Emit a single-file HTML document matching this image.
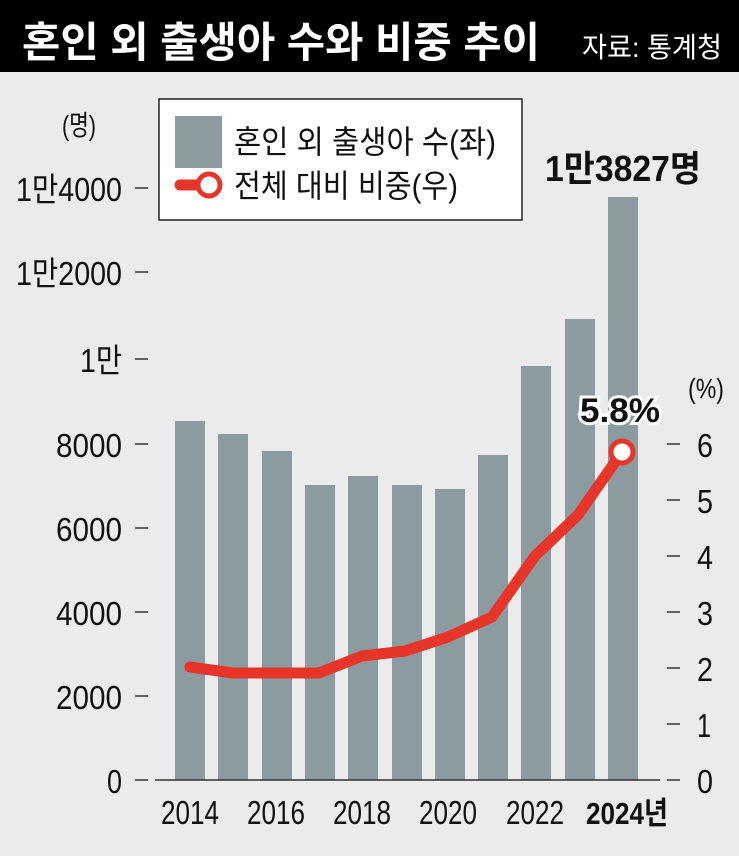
<!DOCTYPE html>
<html><head><meta charset="utf-8"><style>
body{margin:0;background:#ebebeb;}
svg{display:block}
text{font-family:"Liberation Sans Narrow","Liberation Sans","Noto Sans CJK KR",sans-serif;fill:#111}
.k{font-family:"Liberation Sans","Noto Sans CJK KR",sans-serif}
</style></head><body>
<svg width="739" height="856" viewBox="0 0 739 856" xmlns="http://www.w3.org/2000/svg">
<rect width="739" height="856" fill="#ebebeb"/>
<rect width="739" height="72" fill="#000"/>
<text class="k" x="22" y="57" font-size="42" font-weight="bold" style="fill:#fff" textLength="518" lengthAdjust="spacingAndGlyphs">혼인 외 출생아 수와 비중 추이</text>
<text class="k" x="582" y="57" font-size="28" style="fill:#fff" textLength="140" lengthAdjust="spacingAndGlyphs">자료: 통계청</text>
<g fill="#8c9ba0">
<rect x="175" y="421" width="30" height="359"/>
<rect x="218" y="434" width="30" height="346"/>
<rect x="262" y="451" width="30" height="329"/>
<rect x="305" y="485" width="30" height="295"/>
<rect x="348" y="476" width="30" height="304"/>
<rect x="392" y="485" width="30" height="295"/>
<rect x="435" y="489" width="30" height="291"/>
<rect x="478" y="455" width="30" height="325"/>
<rect x="521" y="366" width="30" height="414"/>
<rect x="565" y="319" width="30" height="461"/>
<rect x="608" y="197" width="30" height="583"/>
</g>
<line x1="155" y1="780" x2="660" y2="780" stroke="#333" stroke-width="1.5"/>
<g font-size="33" text-anchor="end">
<text x="122" y="793" textLength="15" lengthAdjust="spacingAndGlyphs">0</text>
<text x="122" y="709" textLength="66" lengthAdjust="spacingAndGlyphs">2000</text>
<text x="122" y="625" textLength="66" lengthAdjust="spacingAndGlyphs">4000</text>
<text x="122" y="541" textLength="66" lengthAdjust="spacingAndGlyphs">6000</text>
<text x="122" y="457" textLength="66" lengthAdjust="spacingAndGlyphs">8000</text>
<text x="122" y="372" class="k" textLength="42" lengthAdjust="spacingAndGlyphs">1만</text>
<text x="122" y="285" class="k" textLength="106" lengthAdjust="spacingAndGlyphs">1만2000</text>
<text x="122" y="201" class="k" textLength="106" lengthAdjust="spacingAndGlyphs">1만4000</text>
</g>
<g stroke="#333" stroke-width="1.5">
<line x1="135" y1="780" x2="148" y2="780"/><line x1="135" y1="696" x2="148" y2="696"/>
<line x1="135" y1="612" x2="148" y2="612"/><line x1="135" y1="528" x2="148" y2="528"/>
<line x1="135" y1="444" x2="148" y2="444"/><line x1="135" y1="359" x2="148" y2="359"/>
<line x1="135" y1="272" x2="148" y2="272"/><line x1="135" y1="188" x2="148" y2="188"/>
<line x1="667" y1="780" x2="680" y2="780"/><line x1="667" y1="724" x2="680" y2="724"/>
<line x1="667" y1="668" x2="680" y2="668"/><line x1="667" y1="612" x2="680" y2="612"/>
<line x1="667" y1="556" x2="680" y2="556"/><line x1="667" y1="500" x2="680" y2="500"/>
<line x1="667" y1="444" x2="680" y2="444"/>
</g>
<text x="62" y="135" font-size="28" class="k" textLength="34" lengthAdjust="spacingAndGlyphs">(명)</text>
<g font-size="33">
<text x="697" y="793" textLength="16" lengthAdjust="spacingAndGlyphs">0</text><text x="697" y="737" textLength="14" lengthAdjust="spacingAndGlyphs">1</text><text x="697" y="681" textLength="16" lengthAdjust="spacingAndGlyphs">2</text>
<text x="697" y="625" textLength="16" lengthAdjust="spacingAndGlyphs">3</text><text x="697" y="569" textLength="16" lengthAdjust="spacingAndGlyphs">4</text><text x="697" y="513" textLength="16" lengthAdjust="spacingAndGlyphs">5</text>
<text x="697" y="457" textLength="16" lengthAdjust="spacingAndGlyphs">6</text>
</g>
<text x="688" y="398" font-size="28" textLength="36" lengthAdjust="spacingAndGlyphs">(%)</text>
<g font-size="33" text-anchor="middle">
<text x="190" y="824" textLength="58" lengthAdjust="spacingAndGlyphs">2014</text>
<text x="276" y="824" textLength="58" lengthAdjust="spacingAndGlyphs">2016</text>
<text x="362" y="824" textLength="58" lengthAdjust="spacingAndGlyphs">2018</text>
<text x="448" y="824" textLength="58" lengthAdjust="spacingAndGlyphs">2020</text>
<text x="535" y="824" textLength="58" lengthAdjust="spacingAndGlyphs">2022</text>
</g>
<text x="586" y="824" font-size="31" font-weight="bold" class="k" textLength="82" lengthAdjust="spacingAndGlyphs">2024년</text>
<polyline points="190,667 233,673 276,673 319,673 362,656 405,651 448,637 492,617 535,556 578,515 622,452" fill="none" stroke="#e8352a" stroke-width="11" stroke-linejoin="round" stroke-linecap="round"/>
<circle cx="622" cy="452" r="11" fill="#fff" stroke="#e8352a" stroke-width="5"/>
<text x="620" y="422" font-size="34" font-weight="bold" text-anchor="middle" class="k" textLength="80" lengthAdjust="spacingAndGlyphs" stroke="#fff" stroke-width="6" paint-order="stroke">5.8%</text>
<text x="623" y="181" font-size="36" font-weight="bold" text-anchor="middle" class="k" textLength="156" lengthAdjust="spacingAndGlyphs">1만3827명</text>
<rect x="159" y="99" width="363" height="121" fill="#fff" stroke="#222" stroke-width="1.5"/>
<rect x="175" y="116" width="47" height="52" fill="#8c9ba0"/>
<text x="234" y="153" font-size="32" class="k" textLength="262" lengthAdjust="spacingAndGlyphs">혼인 외 출생아 수(좌)</text>
<line x1="180" y1="185" x2="200" y2="185" stroke="#e8352a" stroke-width="11" stroke-linecap="round"/>
<circle cx="209" cy="185" r="11" fill="#fff" stroke="#e8352a" stroke-width="5"/>
<text x="234" y="197" font-size="32" class="k" textLength="224" lengthAdjust="spacingAndGlyphs">전체 대비 비중(우)</text>
</svg>
</body></html>
